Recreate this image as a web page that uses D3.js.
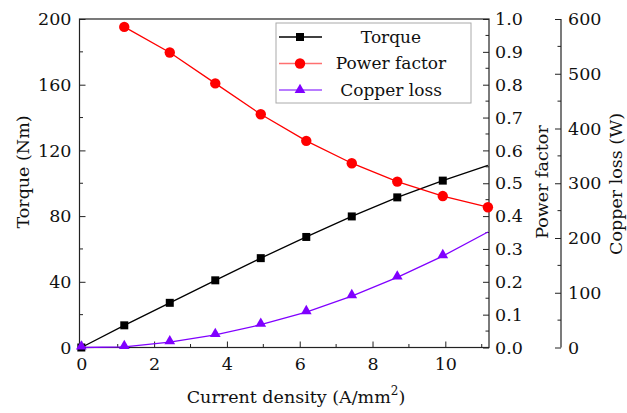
<!DOCTYPE html>
<html><head><meta charset="utf-8">
<script src="https://cdn.jsdelivr.net/npm/d3@7"></script>
<style>body{margin:0;background:#fff}</style>
</head><body><svg id="c" width="627" height="413"></svg>
<script>
const currentDensity = [0, 1.18, 2.43, 3.68, 4.93, 6.18, 7.43, 8.68, 9.93, 11.17];
const torque = [0, 13.5, 27.2, 40.9, 54.4, 67.3, 79.8, 91.4, 101.6, 110.9];
const pfDensity = [1.18, 2.43, 3.68, 4.93, 6.18, 7.43, 8.68, 9.93, 11.17];
const powerFactor = [0.976, 0.898, 0.804, 0.710, 0.629, 0.561, 0.505, 0.461, 0.427];
const copperLoss = [0, 1, 9.7, 23, 41.6, 64.7, 94, 128, 167, 211];
const xTicks = [0, 2, 4, 6, 8, 10];
const torqueTicks = [0, 40, 80, 120, 160, 200];
const pfTicks = [0, 0.1, 0.2, 0.3, 0.4, 0.5, 0.6, 0.7, 0.8, 0.9, 1.0];
const lossTicks = [0, 100, 200, 300, 400, 500, 600];
const legendLabels = ["Torque", "Power factor", "Copper loss"];

const FONT = '"DejaVu Serif", serif';
const svg = d3.select("#c");
const L = 79.5, R = 489, T = 19, B = 347.5, R2 = 561;
const x = d3.scaleLinear().domain([-0.05, 11.2]).range([L, R]);
const yT = d3.scaleLinear().domain([0, 200]).range([B, T]);
const yP = d3.scaleLinear().domain([0, 1]).range([B, T]);
const yC = d3.scaleLinear().domain([0, 600]).range([B, T]);
const FS = 17.5, TFS = 17.5, LFS = 17;

function styleAxis(g) {
  g.attr("font-family", null).attr("font-size", FS);
  g.selectAll("path.domain").remove();
  g.selectAll(".tick line").attr("stroke", "#222").attr("stroke-width", 1);
  g.selectAll(".tick text").style("font-family", FONT).attr("font-size", FS).attr("fill", "#111");
}

const gx = svg.append("g").attr("transform", `translate(0,${B})`)
  .call(d3.axisBottom(x).tickValues(xTicks).tickFormat(d3.format("d")).tickSizeInner(-6).tickSizeOuter(0).tickPadding(6));
styleAxis(gx);
gx.selectAll(".tick text").attr("dy", "0.95em");
[1,3,5,7,9,11].forEach(v => gx.append("line").attr("x1", x(v)).attr("x2", x(v)).attr("y1", 0).attr("y2", -3.5).attr("stroke", "#222"));

const gl = svg.append("g").attr("transform", `translate(${L},0)`)
  .call(d3.axisLeft(yT).tickValues(torqueTicks).tickSizeInner(-6).tickSizeOuter(0).tickPadding(8));
styleAxis(gl);
[20,60,100,140,180].forEach(v => gl.append("line").attr("x1", 0).attr("x2", 3.5).attr("y1", yT(v)).attr("y2", yT(v)).attr("stroke", "#222"));

const gr = svg.append("g").attr("transform", `translate(${R},0)`)
  .call(d3.axisRight(yP).tickValues(pfTicks).tickFormat(d3.format(".1f")).tickSizeInner(-6).tickSizeOuter(0).tickPadding(6));
styleAxis(gr);
d3.range(0.05, 1, 0.1).forEach(v => gr.append("line").attr("x1", 0).attr("x2", -3.5).attr("y1", yP(v)).attr("y2", yP(v)).attr("stroke", "#222"));

const gc = svg.append("g").attr("transform", `translate(${R2},0)`)
  .call(d3.axisRight(yC).tickValues(lossTicks).tickSizeInner(-6).tickSizeOuter(0).tickPadding(7));
styleAxis(gc);
[50,150,250,350,450,550].forEach(v => gc.append("line").attr("x1", 0).attr("x2", -3.5).attr("y1", yC(v)).attr("y2", yC(v)).attr("stroke", "#222"));
gc.append("line").attr("x1", 0).attr("x2", 0).attr("y1", T).attr("y2", B).attr("stroke", "#222").attr("stroke-width", 1.2);

svg.append("rect").attr("x", L).attr("y", T).attr("width", R - L).attr("height", B - T)
  .attr("fill", "none").attr("stroke", "#222").attr("stroke-width", 1.2);

function title(tr, txt) {
  return svg.append("text").attr("transform", tr).attr("text-anchor", "middle")
    .style("font-family", FONT).attr("font-size", TFS).attr("fill", "#111").text(txt);
}
title("translate(29,172) rotate(-90)", "Torque (Nm)");
title("translate(548,182) rotate(-90)", "Power factor");
title("translate(622,184) rotate(-90)", "Copper loss (W)");
const xt = svg.append("text").attr("x", 296).attr("y", 403).attr("text-anchor", "middle")
  .style("font-family", FONT).attr("font-size", TFS).attr("fill", "#111");
xt.append("tspan").text("Current density (A/mm");
xt.append("tspan").attr("dy", -8).attr("font-size", 12).text("2");
xt.append("tspan").attr("dy", 8).text(")");

const colors = ["#000000", "#ff0000", "#8000ff"];
const plot = svg.append("g");
const tData = currentDensity.map((d, i) => [d, torque[i]]);
const pData = pfDensity.map((d, i) => [d, powerFactor[i]]);
const cData = currentDensity.map((d, i) => [d, copperLoss[i]]);

plot.append("path").datum(tData).attr("fill", "none").attr("stroke", colors[0]).attr("stroke-width", 1.3)
  .attr("d", d3.line().x(d => x(d[0])).y(d => yT(d[1])));
plot.append("path").datum(pData).attr("fill", "none").attr("stroke", colors[1]).attr("stroke-width", 1.3)
  .attr("d", d3.line().x(d => x(d[0])).y(d => yP(d[1])));
plot.append("path").datum(cData).attr("fill", "none").attr("stroke", colors[2]).attr("stroke-width", 1.3)
  .attr("d", d3.line().x(d => x(d[0])).y(d => yC(d[1])));

const sq = d3.symbol().type(d3.symbolSquare).size(64);
const ci = d3.symbol().type(d3.symbolCircle).size(85);
const tr = d3.symbol().type(d3.symbolTriangle).size(50);
plot.selectAll(".ms").data(tData.slice(0, -1)).join("path").attr("d", sq)
  .attr("transform", d => `translate(${x(d[0])},${yT(d[1])})`).attr("fill", colors[0]);
plot.selectAll(".mt").data(cData.slice(0, -1)).join("path").attr("d", tr)
  .attr("transform", d => `translate(${x(d[0])},${yC(d[1]) - 1})`).attr("fill", colors[2]);
plot.selectAll(".mc").data(pData).join("path").attr("d", ci)
  .attr("transform", d => `translate(${x(d[0])},${yP(d[1])})`).attr("fill", colors[1]);

const lg = svg.append("g");
lg.append("rect").attr("x", 276).attr("y", 23).attr("width", 195).attr("height", 80)
  .attr("fill", "#fff").attr("stroke", "#aaa").attr("stroke-width", 1);
const syms = [sq, ci, tr];
const lineCols = ["#000", "#ff7070", "#a050ff"];
legendLabels.forEach((lab, i) => {
  const yy = 37 + i * 26.5;
  lg.append("line").attr("x1", 279).attr("x2", 322).attr("y1", yy).attr("y2", yy).attr("stroke", lineCols[i]).attr("stroke-width", 1.3);
  lg.append("path").attr("d", syms[i]).attr("transform", `translate(300,${yy})`).attr("fill", colors[i]);
  lg.append("text").attr("x", 391).attr("y", yy).attr("dy", "0.35em").attr("text-anchor", "middle")
    .style("font-family", FONT).attr("font-size", LFS).attr("fill", "#111").text(lab);
});
</script></body></html>
